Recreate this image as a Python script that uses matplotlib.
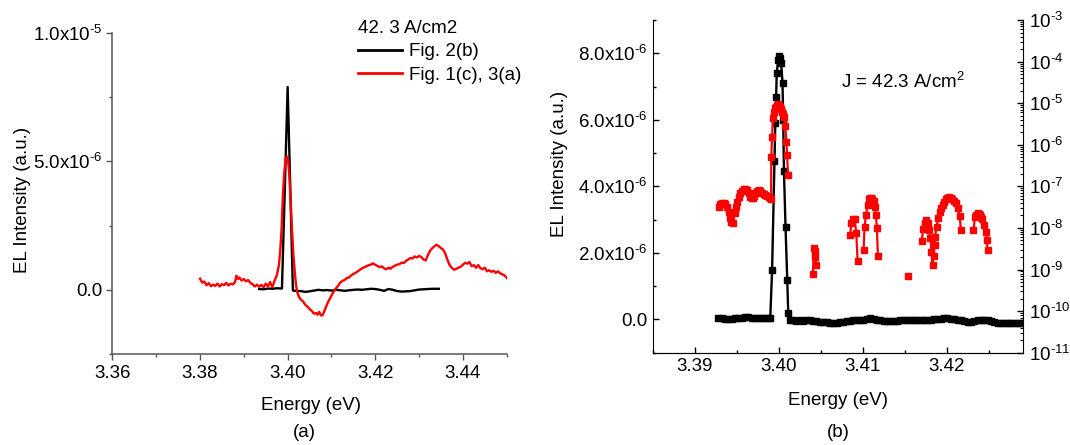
import numpy as np
import matplotlib
matplotlib.use("Agg")
import matplotlib.pyplot as plt
from matplotlib.ticker import MultipleLocator, FuncFormatter, LogLocator, NullFormatter

plt.rcParams["font.family"] = ["Liberation Sans", "DejaVu Sans"]
plt.rcParams["mathtext.default"] = "regular"

# ---- panel (a): two spectra, linear scale (intensity in units of 1e-6) ----
black_a_e = [3.3935, 3.3945, 3.3955, 3.3965, 3.3975, 3.3987, 3.3994, 3.4000, 3.4006, 3.4012,
             3.4020, 3.4030, 3.4040, 3.4050, 3.4060, 3.4070, 3.4080, 3.4090, 3.4100,
             3.4110, 3.4120, 3.4130, 3.4140, 3.4150, 3.4160, 3.4170, 3.4180, 3.4190,
             3.4200, 3.4210, 3.4220, 3.4230, 3.4240, 3.4250, 3.4260, 3.4270, 3.4280,
             3.4290, 3.4300, 3.4310, 3.4320, 3.4330, 3.4345]
black_a_i = [0.03, 0.02, 0.05, 0.04, 0.06, 0.05, 4.2, 7.9, 4.0, -0.03,
             -0.04, -0.05, -0.08, -0.06, -0.03, 0.0, -0.02, -0.01, -0.03,
             0.0, -0.02, -0.04, -0.02, 0.0, 0.01, 0.0, 0.02, 0.04,
             0.03, 0.0, -0.04, 0.03, 0.0, -0.05, -0.07, -0.06, -0.05,
             -0.02, 0.01, 0.02, 0.03, 0.04, 0.04]

red_a_e = [3.3800, 3.3805, 3.3810, 3.3815, 3.3820, 3.3825, 3.3830, 3.3835, 3.3840, 3.3845,
           3.3850, 3.3855, 3.3860, 3.3865, 3.3870, 3.3875, 3.3880, 3.3883, 3.3887, 3.3890,
           3.3895, 3.3900, 3.3905, 3.3910, 3.3915, 3.3920, 3.3925, 3.3930, 3.3935, 3.3940,
           3.3945, 3.3950, 3.3955, 3.3960, 3.3965, 3.3970, 3.3975, 3.3980, 3.3983, 3.3986,
           3.3989, 3.3992, 3.3995, 3.3998, 3.4001, 3.4004, 3.4007, 3.4010, 3.4013, 3.4016,
           3.4019, 3.4022, 3.4026, 3.4030, 3.4035, 3.4040, 3.4045, 3.4050, 3.4055, 3.4060,
           3.4065, 3.4068, 3.4072, 3.4076, 3.4080, 3.4084, 3.4088, 3.4092, 3.4096, 3.4100,
           3.4105, 3.4110, 3.4115, 3.4120, 3.4125, 3.4130, 3.4135, 3.4140, 3.4145, 3.4150,
           3.4155, 3.4160, 3.4165, 3.4170, 3.4175, 3.4180, 3.4185, 3.4190, 3.4195, 3.4200,
           3.4205, 3.4210, 3.4215, 3.4220, 3.4225, 3.4230, 3.4235, 3.4240, 3.4245, 3.4250,
           3.4255, 3.4260, 3.4265, 3.4270, 3.4275, 3.4280, 3.4285, 3.4290, 3.4295, 3.4300,
           3.4305, 3.4310, 3.4315, 3.4320, 3.4325, 3.4330, 3.4335, 3.4340, 3.4345, 3.4350,
           3.4355, 3.4360, 3.4365, 3.4370, 3.4375, 3.4380, 3.4385, 3.4390, 3.4395, 3.4400,
           3.4405, 3.4410, 3.4415, 3.4420, 3.4425, 3.4430, 3.4435, 3.4440, 3.4445, 3.4450,
           3.4455, 3.4460, 3.4465, 3.4470, 3.4475, 3.4480, 3.4485, 3.4490, 3.4495, 3.4500]
red_a_i = [0.43, 0.28, 0.32, 0.18, 0.26, 0.14, 0.20, 0.15, 0.24, 0.13,
           0.22, 0.18, 0.27, 0.17, 0.24, 0.21, 0.30, 0.55, 0.42, 0.48,
           0.36, 0.42, 0.33, 0.38, 0.27, 0.22, 0.13, 0.20, 0.12, 0.19,
           0.10, 0.24, 0.14, 0.30, 0.10, 0.35, 0.55, 0.95, 1.5, 2.3,
           3.6, 4.5, 5.05, 5.2, 5.05, 4.4, 3.4, 2.3, 1.4, 0.75,
           0.2, -0.1, -0.28, -0.38, -0.45, -0.58, -0.65, -0.75, -0.82, -0.93,
           -0.90, -0.97, -0.86, -1.0, -0.98, -0.82, -0.65, -0.48, -0.36, -0.22,
           -0.08, 0.05, 0.15, 0.28, 0.35, 0.38, 0.46, 0.48, 0.56, 0.62,
           0.66, 0.72, 0.78, 0.84, 0.88, 0.92, 0.96, 0.98, 1.03, 0.97,
           0.93, 0.88, 0.91, 0.84, 0.80, 0.86, 0.82, 0.90, 0.94, 0.98,
           1.00, 1.06, 1.04, 1.12, 1.18, 1.24, 1.22, 1.30, 1.26, 1.32,
           1.28, 1.18, 1.14, 1.35, 1.52, 1.62, 1.70, 1.75, 1.70, 1.62,
           1.56, 1.40, 1.15, 0.95, 0.85, 0.78, 0.82, 0.86, 0.90, 0.98,
           1.05, 1.02, 1.08, 0.92, 0.96, 0.86, 0.96, 0.84, 0.80, 0.86,
           0.72, 0.76, 0.70, 0.74, 0.66, 0.72, 0.64, 0.60, 0.56, 0.46]

# ---- panel (b): black spectrum (linear, 1e-6) and red spectrum (log10, right axis) ----
black_b_e = [3.3928, 3.3932, 3.3936, 3.3940, 3.3944, 3.3948, 3.3952, 3.3956, 3.3960, 3.3964,
             3.3968, 3.3972, 3.3976, 3.3980, 3.3984, 3.3988, 3.3990,
             3.39922, 3.3995, 3.3996, 3.3997, 3.39977, 3.39994, 3.40005, 3.40014, 3.4003,
             3.40046, 3.40054, 3.40063, 3.40082, 3.40102, 3.40114,
             3.4013, 3.4017, 3.4021, 3.4025, 3.4029, 3.4033, 3.4037, 3.4041, 3.4045, 3.4049,
             3.4053, 3.4057, 3.4061, 3.4065, 3.4069, 3.4073, 3.4077, 3.4081, 3.4085, 3.4089,
             3.4093, 3.4097, 3.4101, 3.4105, 3.4109, 3.4113, 3.4117, 3.4121, 3.4125, 3.4129,
             3.4133, 3.4137, 3.4141, 3.4145, 3.4149, 3.4153, 3.4157, 3.4161, 3.4165, 3.4169,
             3.4173, 3.4177, 3.4181, 3.4185, 3.4189, 3.4193, 3.4197, 3.4201, 3.4205, 3.4209,
             3.4213, 3.4217, 3.4221, 3.4225, 3.4229, 3.4233, 3.4237, 3.4241, 3.4245, 3.4249,
             3.4253, 3.4257, 3.4261, 3.4265, 3.4269, 3.4273, 3.4277, 3.4281, 3.4285, 3.4289,
             3.4293, 3.4297]
black_b_i = [0.03, 0.03, 0.02, 0.01, 0.02, 0.03, 0.04, 0.05, 0.06, 0.06,
             0.05, 0.05, 0.04, 0.05, 0.05, 0.05, 0.05,
             1.5, 4.75, 5.9, 6.7, 7.42, 7.8, 7.92, 7.85, 7.7,
             7.12, 5.98, 4.45, 2.77, 1.2, 0.2,
             -0.02, -0.03, -0.04, -0.03, -0.04, -0.03, -0.03, -0.04, -0.05, -0.07,
             -0.08, -0.09, -0.10, -0.10, -0.10, -0.09, -0.07, -0.06, -0.04, -0.03,
             -0.02, -0.02, -0.01, 0.02, 0.04, 0.02, -0.01, -0.03, -0.04, -0.04,
             -0.05, -0.04, -0.04, -0.03, -0.03, -0.02, -0.02, -0.03, -0.02, -0.02,
             -0.01, -0.01, -0.01, 0.0, 0.01, 0.02, 0.03, 0.03, 0.02, 0.01,
             -0.01, -0.03, -0.05, -0.08, -0.09, -0.06, -0.03, -0.02, -0.01, -0.02,
             -0.05, -0.08, -0.10, -0.10, -0.10, -0.10, -0.10, -0.10, -0.10, -0.10,
             -0.10, -0.10]

nan = np.nan
red_b_e = [3.39287, 3.39307, 3.39327, 3.39347, 3.39366, 3.39386, 3.39405, 3.39422, 3.39438, 3.39458,
           3.39477, 3.39491, 3.39505, 3.39525, 3.39544, 3.39564, 3.39584, 3.39604, 3.39624, 3.39643,
           3.39663, 3.39680, 3.39696, 3.39710, 3.39723, 3.39742, 3.39762, 3.39782, 3.39802, 3.39822,
           3.39842, 3.39862, 3.39881, 3.39896, 3.39910, 3.39912, 3.39921, 3.39933, 3.39949, 3.39961,
           3.39973, 3.39985, 3.39996, 3.40008, 3.40020, 3.40032, 3.40044, 3.40056, 3.40068, 3.40080,
           3.40092, 3.40100, 3.40112, nan,
           3.40409, 3.40418, 3.40428, 3.40438, 3.40447, nan,
           3.40853, 3.40865, 3.40885, 3.40904, 3.40924, 3.40940, nan,
           3.41011, 3.41023, 3.41040, 3.41059, 3.41079, 3.41091, 3.41103, 3.41117, 3.41130, 3.41150,
           3.41158, 3.41170, 3.41182, nan,
           3.41538, nan,
           3.41704, 3.41720, 3.41740, 3.41760, 3.41780, 3.41792, 3.41808, 3.41820, 3.41832, 3.41844,
           3.41856, 3.41863, 3.41880, 3.41900, 3.41923, 3.41937, 3.41952, 3.41971, 3.41991, 3.42010,
           3.42030, 3.42050, 3.42070, 3.42090, 3.42110, 3.42137, 3.42157, 3.42169, nan,
           3.42320, 3.42339, 3.42353, 3.42368, 3.42382, 3.42395, 3.42410, 3.42423, 3.42447, 3.42467,
           3.42479, 3.42487]
red_b_log = [-7.49, -7.43, -7.41, -7.40, -7.42, -7.50, -7.61, -7.75, -7.85, -7.87,
             -7.65, -7.50, -7.37, -7.26, -7.17, -7.10, -7.06, -7.06, -7.09, -7.17,
             -7.25, -7.29, -7.29, -7.23, -7.17, -7.12, -7.09, -7.11, -7.15, -7.18,
             -7.21, -7.24, -7.26, -7.29, -7.31, -6.30, -5.81, -5.36, -5.20, -5.12,
             -5.08, -5.04, -5.03, -5.04, -5.08, -5.13, -5.20, -5.26, -5.32, -5.56,
             -5.93, -6.25, -6.73, nan,
             -9.11, -8.49, -8.55, -8.70, -8.89, nan,
             -8.17, -7.87, -7.79, -7.79, -8.11, -8.79, nan,
             -8.53, -7.97, -7.69, -7.45, -7.31, -7.28, -7.29, -7.31, -7.35, -7.49,
             -7.69, -8.01, -8.67, nan,
             -9.15, nan,
             -8.31, -8.03, -7.87, -7.81, -7.89, -8.05, -8.25, -8.57, -8.89, -8.67,
             -8.41, -8.21, -7.97, -7.77, -7.61, -7.53, -7.45, -7.37, -7.31, -7.28,
             -7.26, -7.28, -7.31, -7.36, -7.41, -7.53, -7.71, -8.05, nan,
             -8.05, -7.73, -7.68, -7.65, -7.66, -7.69, -7.74, -7.79, -7.93, -8.09,
             -8.29, -8.53]

RED = "#ff0000"
FS = 13.5
HYPHEN = "\u2010"


def sup(exp):
    sign = HYPHEN if exp < 0 else ""
    return f"$^{{{sign}{abs(exp)}}}$"


def sci_label(v, pos):
    if abs(v) < 1e-12:
        return "0.0"
    exp = int(np.floor(np.log10(abs(v))))
    mant = v / 10 ** exp
    return f"{mant:.1f}x10" + sup(exp)


def log_label(v, pos):
    return "10" + sup(int(round(np.log10(v))))


fig = plt.figure(figsize=(10.7, 4.45), dpi=100)

# ---------------- (a) ----------------
ax_a = fig.add_axes([0.1050, 0.2045, 0.3686, 0.7213])
ax_a.plot(black_a_e, np.array(black_a_i) * 1e-6, color="black", lw=1.7, label="Fig. 2(b)")
ax_a.plot(red_a_e, np.array(red_a_i) * 1e-6, color=RED, lw=1.7, label="Fig. 1(c), 3(a)")
ax_a.set_xlim(3.36, 3.45)
ax_a.set_ylim(-2.5e-6, 1.0e-5)
ax_a.xaxis.set_major_locator(MultipleLocator(0.02))
ax_a.xaxis.set_minor_locator(MultipleLocator(0.01))
ax_a.xaxis.set_major_formatter(FuncFormatter(lambda v, p: f"{v:.2f}"))
ax_a.yaxis.set_major_locator(MultipleLocator(5e-6))
ax_a.yaxis.set_minor_locator(MultipleLocator(2.5e-6))
ax_a.yaxis.set_major_formatter(FuncFormatter(sci_label))
for s in ["top", "right"]:
    ax_a.spines[s].set_visible(False)
for s in ["left", "bottom"]:
    ax_a.spines[s].set_color("#555555")
    ax_a.spines[s].set_linewidth(1.1)
ax_a.tick_params(which="both", direction="out", color="#555555", labelsize=FS)
ax_a.tick_params(which="major", length=4.5, width=1.0)
ax_a.tick_params(which="minor", length=2.5, width=1.0)
ax_a.tick_params(axis="y", which="major", pad=2.5)
ax_a.set_xlabel("Energy (eV)", fontsize=FS)
ax_a.set_ylabel("EL Intensity (a.u.)", fontsize=FS)
ax_a.xaxis.set_label_coords(0.503, -0.134)
ax_a.yaxis.set_label_coords(-0.205, 0.48)
leg = ax_a.legend(title="42. 3 A/cm2", loc="upper left", frameon=False,
                  bbox_to_anchor=(0.335, 0.956), bbox_transform=fig.transFigure,
                  borderpad=0, borderaxespad=0, handlelength=2.3, handletextpad=0.4,
                  labelspacing=0.34, fontsize=FS, title_fontsize=FS,
                  alignment="left")
for line in leg.get_lines():
    line.set_linewidth(2.0)
fig.text(0.284, 0.027, "(a)", ha="center", va="center", fontsize=FS)

# ---------------- (b) ----------------
ax_b = fig.add_axes([0.6100, 0.2074, 0.3461, 0.7476])
ax_b.plot(black_b_e, np.array(black_b_i) * 1e-6, color="black", lw=1.7,
          marker="s", markersize=4.8, zorder=3)
ax_b.set_xlim(3.385, 3.4291)
ax_b.set_ylim(-1.0e-6, 9.0e-6)
ax_b.xaxis.set_major_locator(MultipleLocator(0.01))
ax_b.xaxis.set_minor_locator(MultipleLocator(0.005))
ax_b.xaxis.set_major_formatter(FuncFormatter(lambda v, p: f"{v:.2f}"))
ax_b.yaxis.set_major_locator(MultipleLocator(2e-6))
ax_b.yaxis.set_minor_locator(MultipleLocator(1e-6))
ax_b.yaxis.set_major_formatter(FuncFormatter(sci_label))
ax_b.spines["top"].set_visible(False)
ax_b.spines["right"].set_visible(False)
ax_b.tick_params(which="both", direction="in", labelsize=FS)
ax_b.tick_params(which="major", length=4.5, width=1.0)
ax_b.tick_params(which="minor", length=2.5, width=1.0)
ax_b.set_xlabel("Energy (eV)", fontsize=FS)
ax_b.set_ylabel("EL Intensity (a.u.)", fontsize=FS)
ax_b.xaxis.set_label_coords(0.5, -0.118)
ax_b.yaxis.set_label_coords(-0.228, 0.567)

ax_r = ax_b.twinx()
ax_r.plot(red_b_e, 10 ** np.array(red_b_log), color=RED, lw=1.6,
          marker="s", markersize=4.0)
ax_r.set_yscale("log")
ax_r.set_ylim(1e-11, 1e-3)
ax_r.yaxis.set_major_locator(LogLocator(base=10, numticks=20))
ax_r.yaxis.set_minor_locator(LogLocator(base=10, subs=np.arange(2, 10), numticks=20))
ax_r.yaxis.set_major_formatter(FuncFormatter(log_label))
ax_r.yaxis.set_minor_formatter(NullFormatter())
ax_r.spines["top"].set_visible(False)
ax_r.spines["left"].set_visible(False)
ax_r.tick_params(which="both", direction="in", labelsize=FS)
ax_r.tick_params(which="major", length=4.5, width=1.0, pad=4)
ax_r.tick_params(which="minor", length=2.5, width=0.8)
ax_r.text(0.508, 0.815, "J = 42.3 A/cm$^2$", transform=ax_b.transAxes,
          ha="left", va="center", fontsize=FS)
fig.text(0.7837, 0.027, "(b)", ha="center", va="center", fontsize=FS)

fig.savefig("out.png", dpi=100)
